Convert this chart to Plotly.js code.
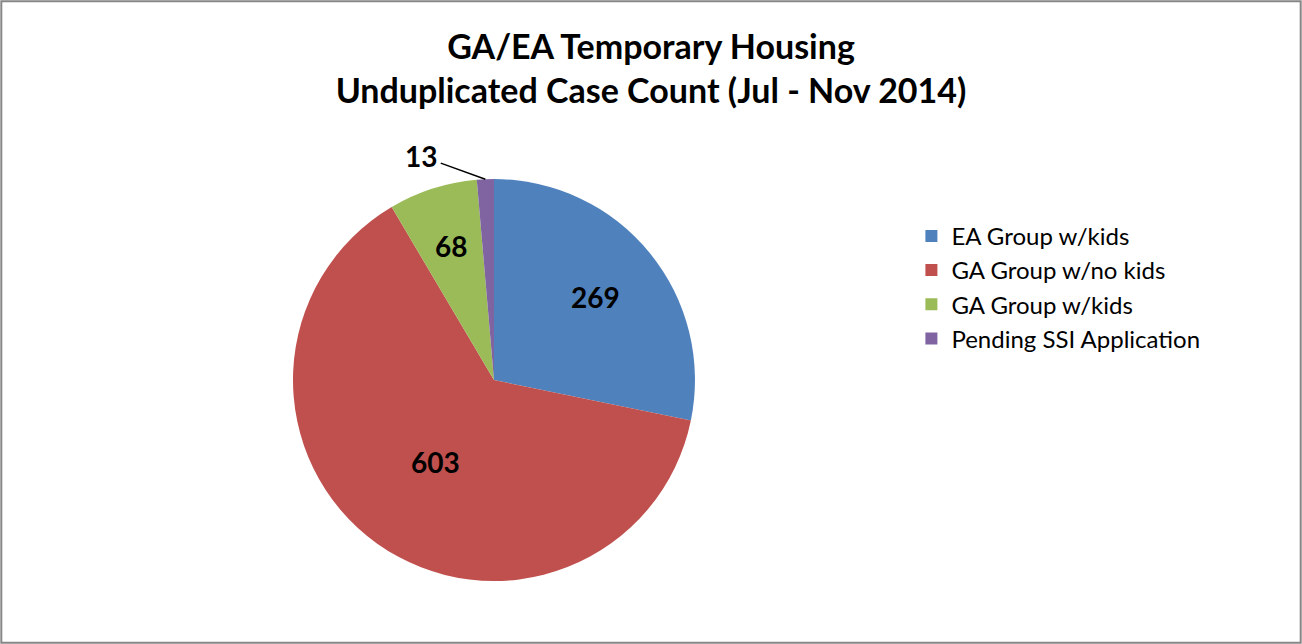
<!DOCTYPE html>
<html><head><meta charset="utf-8">
<script src="https://cdn.plot.ly/plotly-3.0.1.min.js"></script>
<style>html,body{margin:0;padding:0;background:#fff}#chart{width:1302px;height:644px}</style>
</head><body><div id="chart"></div>
<script>
const categories = ["EA Group w/kids", "GA Group w/no kids", "GA Group w/kids", "Pending SSI Application"];
const values = [269, 603, 68, 13];
const colors = ["#4F81BD", "#C0504D", "#9BBB59", "#8064A2"];
// radial position of each value label, as a fraction of the pie radius (style only); null = outside with leader
const labelRadius = [0.65, 0.50, 0.70, null];
const outsideOffset = {ax: -64, ay: -23};
const FONT = "Lato, 'Open Sans', sans-serif";

const W = 1302, H = 644;
const dom = {x: [0.2250, 0.5338], y: [0.0978, 0.7220]};

const trace = {
  type: "pie",
  labels: categories,
  values: values,
  sort: false,
  direction: "clockwise",
  rotation: 0,
  marker: {colors: colors, line: {color: "#ffffff", width: 0}},
  textinfo: "none",
  hoverinfo: "label+value+percent",
  domain: dom,
  automargin: false
};

// value labels placed along each slice's mid-angle (computed from the data)
const total = values.reduce((a, b) => a + b, 0);
const cxPx = (dom.x[0] + dom.x[1]) / 2 * W;
const cyPx = (1 - (dom.y[0] + dom.y[1]) / 2) * H;
const Rpx = (dom.x[1] - dom.x[0]) * W / 2;
let cum = 0;
const annotations = values.map((v, i) => {
  const mid = (cum + v / 2) / total * 2 * Math.PI;
  cum += v;
  const a = {
    xref: "paper", yref: "paper",
    text: "<b>" + v + "</b>",
    showarrow: false,
    font: {family: FONT, size: 28, color: "#000000"},
    xanchor: "center", yanchor: "middle"
  };
  if (labelRadius[i] !== null) {
    const r = labelRadius[i] * Rpx;
    a.x = (cxPx + r * Math.sin(mid)) / W;
    a.y = 1 - (cyPx - r * Math.cos(mid)) / H;
  } else {
    // outside label with a leader line to the slice edge
    const ex = cxPx + Rpx * Math.sin(mid);
    const ey = cyPx - Rpx * Math.cos(mid);
    a.x = ex / W; a.y = 1 - ey / H;
    a.showarrow = true;
    a.arrowhead = 0; a.arrowwidth = 1.5; a.arrowcolor = "#000000";
    a.ax = outsideOffset.ax; a.ay = outsideOffset.ay;
    a.standoff = 0; a.startstandoff = 2;
  }
  return a;
});

const layout = {
  width: W, height: H,
  margin: {l: 0, r: 0, t: 0, b: 0},
  paper_bgcolor: "#ffffff",
  title: {
    text: "<b>GA/EA Temporary Housing<br>Unduplicated Case Count (Jul - Nov 2014)</b>",
    font: {family: FONT, size: 34, color: "#000000"},
    x: 0.5, xanchor: "center", y: 0.908, yanchor: "top", yref: "container"
  },
  showlegend: true,
  legend: {
    x: 0.700, y: 0.668, xanchor: "left", yanchor: "top",
    font: {family: FONT, size: 24, color: "#000000"},
    itemsizing: "constant", tracegroupgap: 0, traceorder: "normal"
  },
  annotations: annotations,
  shapes: [{type: "rect", xref: "paper", yref: "paper", x0: 0.001, y0: 0.002, x1: 0.999, y1: 0.998,
            line: {color: "#868686", width: 2}}]
};

Plotly.newPlot("chart", [trace], layout, {displayModeBar: false, staticPlot: true});
</script></body></html>
